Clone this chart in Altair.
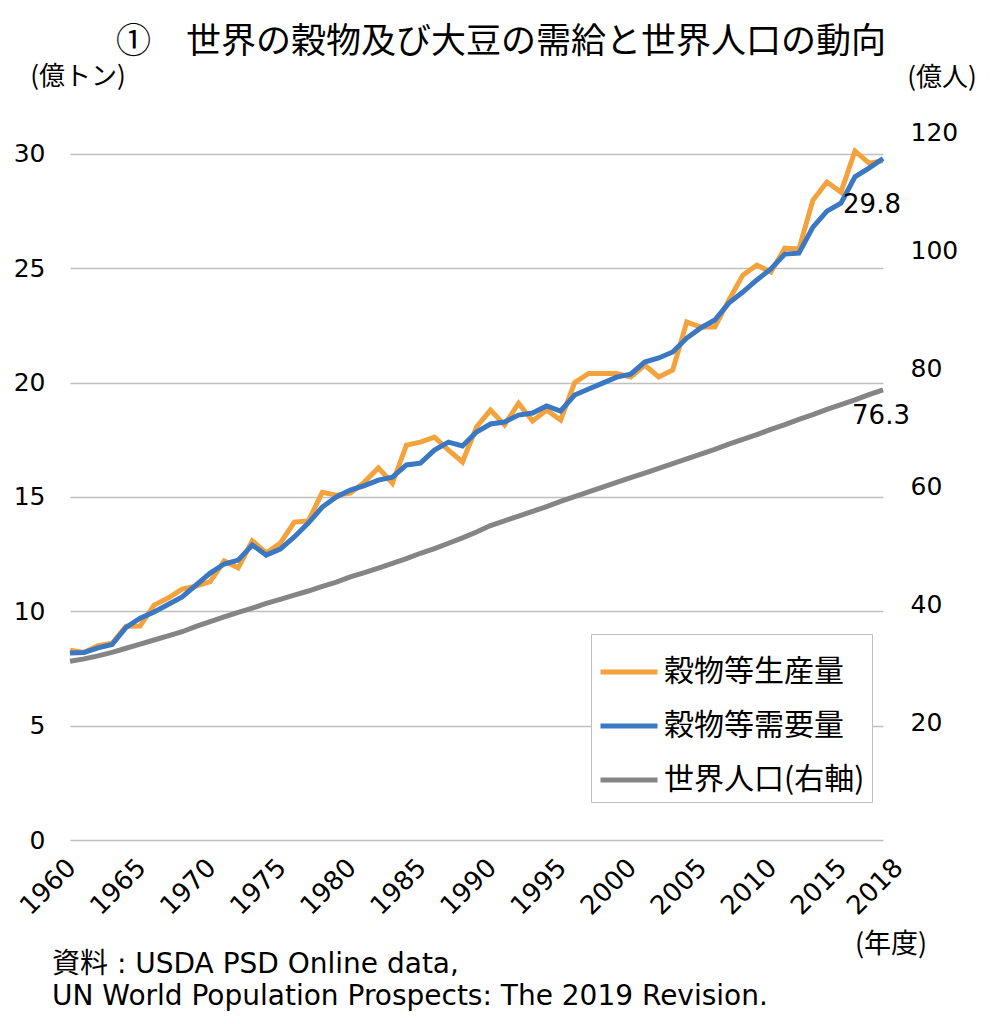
import altair as alt
import pandas as pd

# ---------------- data ----------------
years = list(range(1960, 2019))

production = [8.3, 8.2, 8.5, 8.6, 9.35, 9.36, 10.27, 10.58, 10.97, 11.1,
              11.3, 12.2, 11.9, 13.08, 12.55, 12.98, 13.9, 13.95, 15.2, 15.08,
              15.17, 15.65, 16.27, 15.6, 17.27, 17.4, 17.62, 17.05, 16.53, 18.06,
              18.8, 18.15, 19.1, 18.32, 18.8, 18.36, 20.0, 20.4, 20.4, 20.4,
              20.25, 20.77, 20.25, 20.55, 22.65, 22.43, 22.43, 23.6, 24.7, 25.14,
              24.84, 25.88, 25.84, 27.98, 28.77, 28.33, 30.13, 29.6, 29.7]

demand = [8.18, 8.2, 8.4, 8.55, 9.3, 9.7, 9.97, 10.3, 10.63, 11.15,
          11.67, 12.07, 12.24, 12.9, 12.46, 12.72, 13.25, 13.86, 14.56, 15.0,
          15.3, 15.5, 15.74, 15.87, 16.4, 16.48, 17.05, 17.4, 17.23, 17.84,
          18.19, 18.28, 18.58, 18.67, 18.98, 18.76, 19.46, 19.72, 19.98, 20.24,
          20.37, 20.9, 21.08, 21.34, 21.95, 22.39, 22.74, 23.48, 23.96, 24.49,
          24.97, 25.62, 25.66, 26.8, 27.5, 27.85, 29.0, 29.38, 29.8]

population = [30.3, 30.7, 31.2, 31.8, 32.5, 33.2, 33.9, 34.6, 35.3, 36.2,
              37.0, 37.8, 38.6, 39.3, 40.1, 40.8, 41.5, 42.2, 43.0, 43.7,
              44.6, 45.3, 46.1, 46.9, 47.7, 48.6, 49.4, 50.3, 51.2, 52.2,
              53.3, 54.1, 54.9, 55.7, 56.5, 57.4, 58.2, 59.0, 59.8, 60.6,
              61.4, 62.2, 63.0, 63.8, 64.6, 65.4, 66.2, 67.1, 67.9, 68.7,
              69.6, 70.4, 71.3, 72.1, 73.0, 73.8, 74.6, 75.5, 76.3]

series_names = ["穀物等生産量", "穀物等需要量", "世界人口(右軸)"]
series_colors = ["#F4A23C", "#3A78C3", "#858585"]

x_ticks = [1960, 1965, 1970, 1975, 1980, 1985, 1990, 1995, 2000, 2005, 2010, 2015, 2018]
left_ticks = [0, 5, 10, 15, 20, 25, 30]
right_ticks = [20, 40, 60, 80, 100, 120]

title_text = "①\u3000世界の穀物及び大豆の需給と世界人口の動向"
left_unit = "(億トン)"
right_unit = "(億人)"
x_unit = "(年度)"
source_1 = "資料 : USDA PSD Online data,"
source_2 = "UN World Population Prospects: The 2019 Revision."

rows = []
for i, yr in enumerate(years):
    rows.append({"year": yr, "series": series_names[0], "value": production[i]})
    rows.append({"year": yr, "series": series_names[1], "value": demand[i]})
    rows.append({"year": yr, "series": series_names[2], "value": population[i]})
df = pd.DataFrame(rows)

# ---------------- chart ----------------
FONT = "DejaVu Sans, Noto Sans CJK JP, sans-serif"
JFONT = "Noto Sans CJK JP, DejaVu Sans, sans-serif"
W, H = 813, 708

x_axis = alt.Axis(values=x_ticks, format="d", labelAngle=-45,
                  labelFontSize=26, labelFont=FONT, labelColor="black",
                  labelPadding=14, labelOverlap=False, labelFlush=False,
                  labelOffset={"condition": {"test": "datum.value == 2018", "value": 6}, "value": -8},
                  domain=False, ticks=False, grid=False, title=None)
x_enc = alt.X("year:Q", scale=alt.Scale(domain=[1960, 2018], nice=False, zero=False), axis=x_axis)

color_enc = alt.Color("series:N",
                      scale=alt.Scale(domain=series_names, range=series_colors),
                      legend=alt.Legend(title=None, orient="none", legendX=521, legendY=502,
                                        direction="vertical", symbolType="stroke",
                                        symbolStrokeWidth=5, symbolSize=3249,
                                        labelFontSize=30, labelFont=JFONT, labelColor="black",
                                        labelOffset=4, strokeColor="#BFBFBF", fillColor="white",
                                        padding=7, rowPadding=8, labelLimit=400))

y_left = alt.Y("value:Q", scale=alt.Scale(domain=[0, 30.96], nice=False, zero=True),
               axis=alt.Axis(values=left_ticks, orient="left", grid=True,
                             gridColor="#BFBFBF", gridWidth=1.6, domain=False, ticks=False,
                             labelFontSize=25, labelFont=FONT, labelColor="black",
                             labelPadding=25, title=None))
y_right = alt.Y("value:Q", scale=alt.Scale(domain=[0, 120], nice=False, zero=True),
                axis=alt.Axis(values=right_ticks, orient="right", grid=False,
                              domain=False, ticks=False, labelFontSize=25, labelFont=FONT,
                              labelColor="black", labelPadding=27, title=None))

base = alt.Chart(df)

left_lines = base.transform_filter(
    alt.FieldOneOfPredicate(field="series", oneOf=series_names[:2])
).mark_line(strokeWidth=5, strokeJoin="miter").encode(x=x_enc, y=y_left, color=color_enc)

left_label = base.transform_filter(
    (alt.datum.year == 2018) & (alt.datum.series == series_names[1])
).mark_text(fontSize=26, font=FONT, color="black", dx=-11, dy=46).encode(
    x=x_enc, y=y_left, text=alt.Text("value:Q", format=".1f"))

right_line = base.transform_filter(
    alt.datum.series == series_names[2]
).mark_line(strokeWidth=5).encode(x=x_enc, y=y_right, color=color_enc)

right_label = base.transform_filter(
    (alt.datum.year == 2018) & (alt.datum.series == series_names[2])
).mark_text(fontSize=26, font=FONT, color="black", dx=-2, dy=26).encode(
    x=x_enc, y=y_right, text=alt.Text("value:Q", format=".1f"))

left_layer = alt.layer(left_lines, left_label)
right_layer = alt.layer(right_line, right_label)

dummy = pd.DataFrame({"k": [0]})


def note(txt, px, py, size, align="left", font=JFONT):
    return alt.Chart(dummy).mark_text(
        text=txt, fontSize=size, font=font, align=align, baseline="middle", color="black"
    ).encode(x=alt.value(px), y=alt.value(py))


notes = [
    note(title_text, 431, -90, 35, align="center"),
    note(left_unit, 8, -55, 26, align="center"),
    note(right_unit, 872, -54, 26, align="center"),
    note(x_unit, 821, 813, 27, align="center"),
    note(source_1, -18, 833, 28, font=FONT),
    note(source_2, -18, 865, 28, font=FONT),
]

chart = alt.layer(left_layer, right_layer, *notes).resolve_scale(
    y="independent"
).properties(
    width=W, height=H,
    autosize=alt.AutoSizeParams(type="none"),
    padding={"left": 62, "top": 124, "right": 99, "bottom": 178},
).configure(background="white").configure_view(stroke=None)

chart.save("out.html", embed_options={"renderer": "svg", "actions": False})
